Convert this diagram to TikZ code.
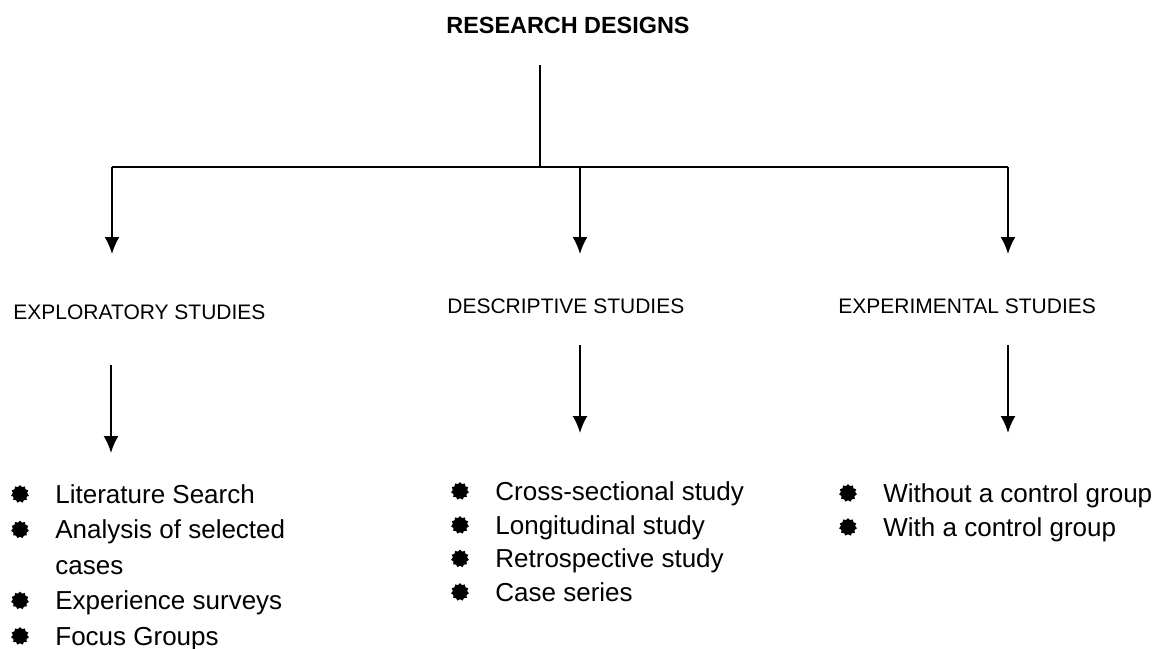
\documentclass[tikz,border=0pt]{standalone}
\usepackage{fontspec}
\setmainfont{Liberation Sans}
\usetikzlibrary{arrows.meta,shapes.geometric}
\tikzset{
  >={Latex[length=8.5pt,width=7.5pt]},
  {link/.style} ={draw,line width=1pt},
  {heading/.style} ={font=\fontsize{11.7}{14}\selectfont\bfseries,
                  inner sep=0, anchor=base},
  {study/.style} ={font=\fontsize{10.5}{13}\selectfont,
                  inner sep=0, anchor=base west},
  {item/.style} ={font=\fontsize{13}{17.75}\selectfont,
                  inner sep=0, anchor=base west, align=left},
  {bul/.style} ={star, star points=11, star point ratio=1.25,
                  fill=black, inner sep=0, minimum size=9pt},
}

\begin{document}
\begin{tikzpicture}[x=0.5pt,y=-0.5pt]
\useasboundingbox (0,0) rectangle (1160,648);
\node[heading] (rd) at (568,33) {RESEARCH DESIGNS};
\node[study] (explo) at (13,319) {EXPLORATORY STUDIES};
\node[study] (descr) at (447,313) {DESCRIPTIVE STUDIES};
\node[study] (exper) at (838,313) {EXPERIMENTAL STUDIES};
% tree
\coordinate (top) at (540,65);
\coordinate (hub) at (540,167);
\coordinate (l) at (112,167);
\coordinate (m) at (580,167);
\coordinate (r) at (1008,167);
\coordinate (l1) at (112,254);
\coordinate (m1) at (580,254);
\coordinate (r1) at (1008,254);
\coordinate (l2) at (111,365);
\coordinate (m2) at (580,345);
\coordinate (r2) at (1008,345);
\coordinate (l3) at (111,453);
\coordinate (m3) at (580,433);
\coordinate (r3) at (1008,433);
\path[link] (top) -- (hub);
\path[link] (l) -- (r);
\foreach \c in {l,m,r}{
  \path[link,->] (\c) -- (\c1);
  \path[link,->] (\c2) -- (\c3);
}
% lists (text at its last baseline, bullet at the first)
\foreach \t/\y/\b [count=\i] in {Literature Search/503/503,
    Analysis of selected\\cases/574/538.5,
    Experience surveys/609.5/609.5, Focus Groups/645/645}{
  \node[item] (il\i) at (55,\y) {\t};
  \node[bul] (bl\i) at (20,\b-9) {};
}
\foreach \t/\y [count=\i] in {Cross-sectional study/500,
    Longitudinal study/534, Retrospective study/567.5,
    Case series/601}{
  \node[item] (im\i) at (495,\y) {\t};
  \node[bul] (bm\i) at (460,\y-9) {};
}
\foreach \t/\y [count=\i] in {Without a control group/502,
    With a control group/536}{
  \node[item] (ir\i) at (883,\y) {\t};
  \node[bul] (br\i) at (848,\y-9) {};
}
\end{tikzpicture}
\end{document}
